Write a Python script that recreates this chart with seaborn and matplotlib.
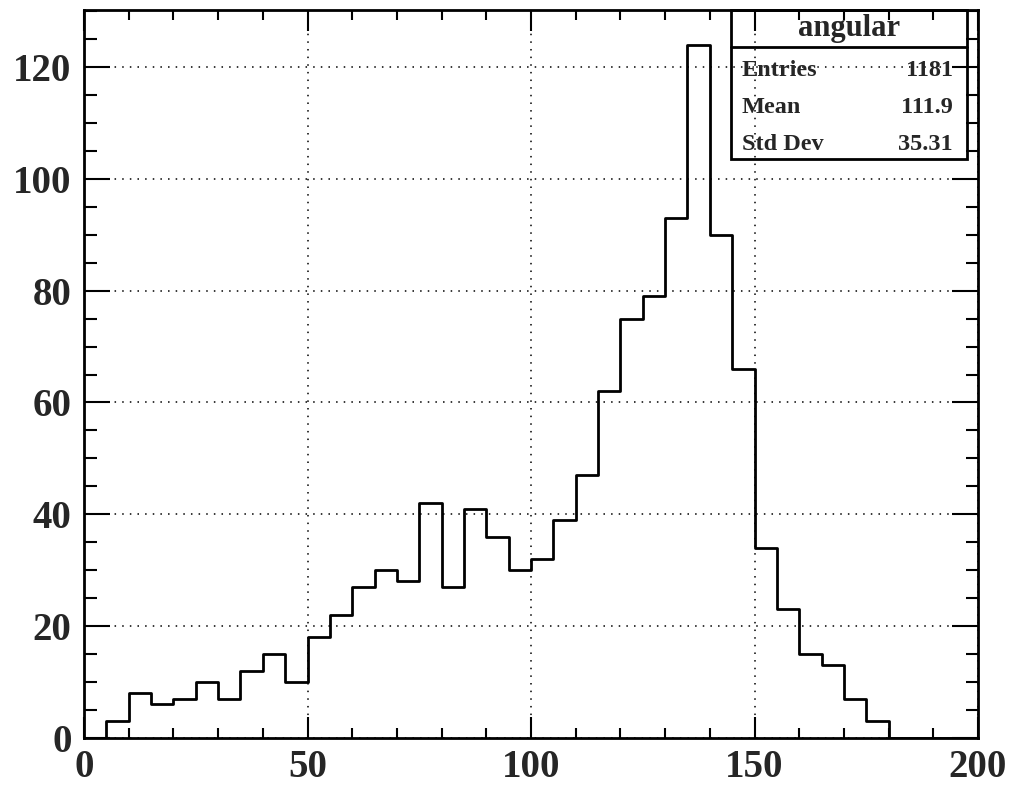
import numpy as np
import pandas as pd
import matplotlib
matplotlib.use("Agg")
import matplotlib.pyplot as plt
from matplotlib.patches import Rectangle
from matplotlib.lines import Line2D
from matplotlib.ticker import MultipleLocator
import seaborn as sns

# Histogram "angular": 5-unit bins over [0, 200]
bin_edges = list(range(0, 205, 5))
counts = [0, 3, 8, 6, 7, 10, 7, 12, 15, 10,
          18, 22, 27, 30, 28, 42, 27, 41, 36, 30,
          32, 39, 47, 62, 75, 79, 93, 124, 90, 66,
          34, 23, 15, 13, 7, 3, 0, 0, 0, 0]
hist_name = "angular"
stat_labels = ["Entries", "Mean", "Std Dev"]
stat_mean = "111.9"
stat_std = "35.31"

sns.set_style("ticks")
plt.rcParams["font.family"] = ["Liberation Serif", "DejaVu Serif"]
plt.rcParams["font.weight"] = "bold"

centers = [0.5 * (a + b) for a, b in zip(bin_edges[:-1], bin_edges[1:])]
df = pd.DataFrame({"angle": centers, "n": counts})

fig = plt.figure(figsize=(10.11, 7.85), dpi=100)
ax = fig.add_axes([0.0831, 0.0599, 0.8843, 0.9274])

sns.histplot(data=df, x="angle", weights="n", bins=bin_edges, element="step",
             fill=False, color="black", linewidth=2.0, ax=ax)

ax.set_xlim(0, 200)
ax.set_ylim(0, 1.05 * max(counts))
ax.set_xlabel("")
ax.set_ylabel("")

ax.xaxis.set_major_locator(MultipleLocator(50))
ax.xaxis.set_minor_locator(MultipleLocator(10))
ax.yaxis.set_major_locator(MultipleLocator(20))
ax.yaxis.set_minor_locator(MultipleLocator(5))

ax.tick_params(which="both", direction="in", top=True, right=True,
               width=1.5, color="black")
ax.tick_params(axis="x", which="major", length=15, pad=8, labelsize=28)
ax.tick_params(axis="x", which="minor", length=7.5)
ax.tick_params(axis="y", which="major", length=19, pad=9, labelsize=28)
ax.tick_params(axis="y", which="minor", length=9)
for lab in ax.get_xticklabels() + ax.get_yticklabels():
    lab.set_fontweight("bold")

for sp in ax.spines.values():
    sp.set_visible(True)
    sp.set_linewidth(2.0)
    sp.set_color("black")

ax.grid(True, which="major", color="black", linewidth=1.1,
        linestyle=(0, (1, 4)))

# Statistics box
bx0, bx1 = 0.7237, 0.9877
by0, by1, bsep = 0.795, 1.0, 0.949
ax.add_patch(Rectangle((bx0, by0), bx1 - bx0, by1 - by0, transform=ax.transAxes,
                       fill=False, edgecolor="black", linewidth=2.0, zorder=5,
                       clip_on=False))
ax.add_line(Line2D([bx0, bx1], [bsep, bsep], transform=ax.transAxes,
                   color="black", linewidth=2.0, zorder=5))
ax.text(0.5 * (bx0 + bx1), 0.9643, hist_name, transform=ax.transAxes,
        ha="center", va="baseline", fontsize=22, fontweight="bold")
stat_values = [f"{int(sum(counts))}", stat_mean, stat_std]
for lab, val, yy in zip(stat_labels, stat_values, [0.9093, 0.8585, 0.8077]):
    ax.text(0.736, yy, lab, transform=ax.transAxes, ha="left", va="baseline",
            fontsize=17.5, fontweight="bold")
    ax.text(0.972, yy, val, transform=ax.transAxes, ha="right", va="baseline",
            fontsize=17.5, fontweight="bold")

fig.savefig("out.png", dpi=100, facecolor="white")
